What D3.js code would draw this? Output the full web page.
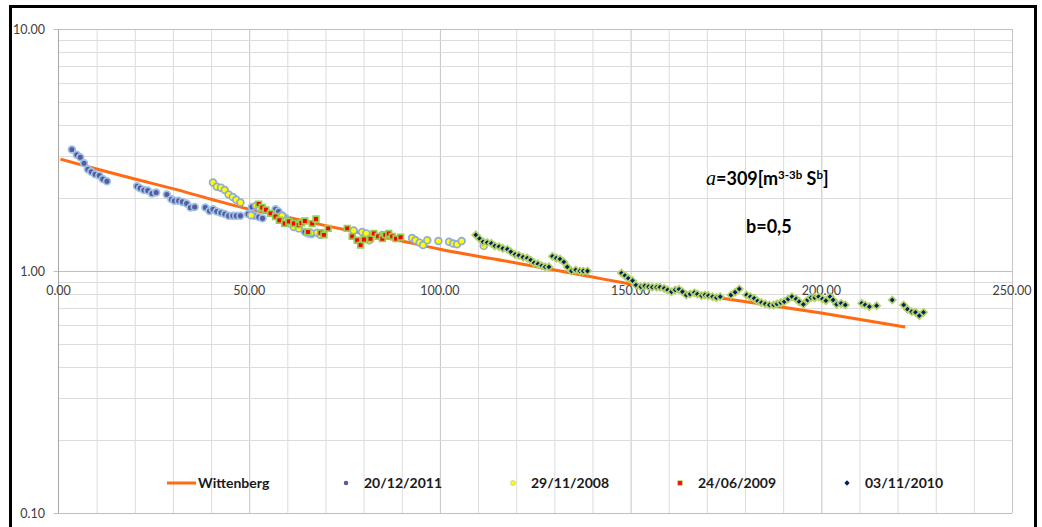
<!DOCTYPE html>
<html>
<head>
<meta charset="utf-8">
<script src="https://cdn.jsdelivr.net/npm/d3@7"></script>
<style>
  html, body { margin: 0; padding: 0; background: #fff; }
  svg { display: block; font-family: Lato, "Open Sans", sans-serif; }
</style>
</head>
<body>
<svg id="chart" width="1042" height="527"></svg>
<script>
// Wittenberg fitted curve
const wittX = [0.5, 10, 20, 30, 40, 50, 60, 70, 80, 90, 100, 120, 140, 150, 170, 200, 222];
const wittY = [2.90, 2.64, 2.40, 2.19, 1.98, 1.80, 1.67, 1.54, 1.43, 1.33, 1.23, 1.08, 0.944, 0.883, 0.789, 0.67, 0.587];

// measured points, [x, y]
const s20122011 = [[3.5,3.18],[4.8,3.02],[5.7,2.95],[6.7,2.79],[7.7,2.63],[8.6,2.57],[9.6,2.51],[10.7,2.48],[11.6,2.40],[12.7,2.35],
  [20.6,2.24],[21.4,2.20],[22.4,2.16],[23.4,2.15],[24.5,2.09],[25.6,2.11],
  [28.4,2.07],[29.6,1.98],[30.4,1.95],[31.5,1.95],[32.5,1.93],[33.6,1.90],[34.6,1.83],[35.7,1.84],
  [38.5,1.83],[39.6,1.77],[40.5,1.80],[41.5,1.76],[42.6,1.74],[43.6,1.72],[44.6,1.69],[45.7,1.69],[46.6,1.69],[47.7,1.69],
  [49.7,1.72],[50.7,1.84],[51.4,1.69],[52.5,1.67],[53.5,1.65],[56.9,1.80],[57.7,1.76],[58.6,1.70],[59.5,1.66],
  [64.6,1.45],[65.4,1.43],[66.3,1.42]];

const s29112008 = [[40.5,2.32],[41.5,2.23],[42.6,2.21],[43.6,2.16],[44.6,2.07],[45.7,2.02],[46.6,1.97],[47.7,1.92],
  [50.5,1.70],[51.8,1.86],[52.7,1.82],[58.6,1.69],[59.8,1.62],[60.8,1.57],[61.7,1.52],[63.0,1.50],
  [66.1,1.44],[67.8,1.44],[68.7,1.41],[77.4,1.47],[79.6,1.45],[80.7,1.43],[81.5,1.34],[84.9,1.41],
  [92.7,1.37],[93.6,1.34],[94.7,1.31],[95.6,1.28],[96.7,1.34],[99.6,1.33],[102.4,1.32],[103.5,1.30],[104.5,1.29],[105.7,1.33],[111.5,1.27]];

const s24062009 = [[52.5,1.89],[53.4,1.83],[54.4,1.79],[55.6,1.73],[56.9,1.68],[57.9,1.62],[59.3,1.57],[60.4,1.60],[61.7,1.57],
  [63.0,1.55],[63.7,1.58],[64.6,1.61],[65.4,1.45],[66.5,1.57],[67.5,1.64],[68.7,1.44],[69.6,1.41],[70.7,1.50],
  [75.7,1.50],[77.0,1.39],[78.3,1.34],[79.2,1.28],[80.1,1.35],[81.8,1.36],[82.7,1.43],[83.8,1.39],[84.9,1.36],
  [85.7,1.41],[86.6,1.43],[87.5,1.39],[88.5,1.36],[89.7,1.38]];

const s03112010 = [[109.4,1.41],[110.4,1.36],[111.3,1.32],[112.4,1.31],[113.5,1.30],[114.4,1.27],[115.5,1.26],[116.5,1.24],[117.7,1.23],
  [118.6,1.20],[119.7,1.17],[120.7,1.16],[121.8,1.14],[122.9,1.13],[123.8,1.11],[124.7,1.08],[125.7,1.07],[126.7,1.05],[127.6,1.04],[128.6,1.04],
  [129.5,1.15],[130.5,1.13],[131.5,1.12],[132.5,1.09],[133.4,1.04],[134.5,1.00],[135.6,1.01],[136.7,1.00],[137.6,1.00],[138.7,1.00],
  [147.6,0.98],[148.5,0.957],[149.4,0.933],[150.5,0.912],[151.4,0.875],[152.7,0.861],[153.7,0.867],[154.7,0.861],[155.7,0.857],
  [156.8,0.857],[157.7,0.857],[158.8,0.848],[159.7,0.835],[160.7,0.821],[161.7,0.835],[162.7,0.840],[163.6,0.821],[164.6,0.796],
  [165.6,0.803],[166.7,0.813],[167.5,0.803],[168.6,0.791],[169.5,0.796],[170.4,0.791],[171.5,0.783],[172.5,0.776],[173.5,0.783],
  [176.3,0.796],[177.4,0.817],[178.5,0.843],[180.4,0.796],[181.4,0.783],[182.4,0.771],[183.3,0.751],[184.3,0.740],[185.3,0.731],
  [186.4,0.724],[187.5,0.724],[188.4,0.731],[189.4,0.740],[190.3,0.747],[191.3,0.766],[192.3,0.783],[193.4,0.766],[194.2,0.747],
  [195.3,0.728],[196.4,0.759],[197.3,0.776],[198.3,0.776],[199.3,0.783],[200.3,0.766],[201.2,0.754],[202.3,0.783],[203.1,0.759],
  [204.0,0.728],[205.2,0.735],[206.3,0.724],[210.6,0.735],[211.5,0.724],[212.6,0.712],[214.5,0.719],[218.6,0.759],
  [221.6,0.724],[222.6,0.695],[223.7,0.679],[224.7,0.675],[225.7,0.654],[226.8,0.675]];

const xTicks = [0, 50, 100, 150, 200, 250];
const yTicks = [0.1, 1, 10];
const legendLabels = ["Wittenberg", "20/12/2011", "29/11/2008", "24/06/2009", "03/11/2010"];

const svg = d3.select("#chart");

const x = d3.scaleLinear().domain([0, 250]).range([58.5, 1012]);
const y = d3.scaleLog().domain([0.1, 10]).range([513, 29]);

// outer frame
svg.append("rect")
  .attr("x", 10.5).attr("y", 6.5)
  .attr("width", 1025).attr("height", 540)
  .attr("fill", "#fff")
  .attr("stroke", "#000")
  .attr("stroke-width", 3);

// grid
const grid = svg.append("g");
const xMinor = d3.range(10, 251, 10);
grid.selectAll(".vx")
  .data(xMinor)
  .join("line")
  .attr("x1", d => x(d) + 0.5).attr("x2", d => x(d) + 0.5)
  .attr("y1", y(10)).attr("y2", y(0.1))
  .attr("stroke", d => d % 50 === 0 ? "#c4c4c4" : "#dcdcdc")
  .attr("stroke-width", 1);

const yMinor = [];
[0.1, 1].forEach(dec => { for (let k = 2; k <= 9; k++) yMinor.push(dec * k); });
grid.selectAll(".hy")
  .data(yMinor)
  .join("line")
  .attr("x1", x(0)).attr("x2", x(250))
  .attr("y1", d => Math.round(y(d)) + 0.5).attr("y2", d => Math.round(y(d)) + 0.5)
  .attr("stroke", "#dcdcdc");

grid.selectAll(".hmaj")
  .data(yTicks)
  .join("line")
  .attr("x1", x(0) - 5).attr("x2", x(250))
  .attr("y1", d => Math.round(y(d)) + 0.5).attr("y2", d => Math.round(y(d)) + 0.5)
  .attr("stroke", "#bfbfbf");

// y axis line
svg.append("line")
  .attr("x1", x(0)).attr("x2", x(0))
  .attr("y1", y(10)).attr("y2", y(0.1))
  .attr("stroke", "#a6a6a6");

// y tick labels
svg.append("g").selectAll("text")
  .data(yTicks)
  .join("text")
  .attr("x", 45)
  .attr("y", d => y(d) + 4.5)
  .attr("text-anchor", "end")
  .attr("font-size", 12.5)
  .attr("fill", "#404040")
  .text(d => d3.format(".2f")(d));

// x tick labels (axis crosses at 1.00)
svg.append("g").selectAll("text")
  .data(xTicks)
  .join("text")
  .attr("x", d => x(d))
  .attr("y", y(1) + 24)
  .attr("text-anchor", "middle")
  .attr("font-size", 12.5)
  .attr("fill", "#404040")
  .text(d => d3.format(".2f")(d));

// Wittenberg line
const line = d3.line()
  .x(d => x(d[0]))
  .y(d => y(d[1]))
  .curve(d3.curveMonotoneX);

svg.append("path")
  .datum(d3.zip(wittX, wittY))
  .attr("d", line)
  .attr("fill", "none")
  .attr("stroke", "#ff6a13")
  .attr("stroke-width", 3);

// markers
const circle = d3.symbol().type(d3.symbolCircle).size(36);
const square = d3.symbol().type(d3.symbolSquare).size(32);
const diamond = d3.symbol().type(d3.symbolSquare).size(26);

const series = [
  { data: s20122011, sym: circle, fill: "#5a5a9e", stroke: "#9dc3e6", rot: 0 },
  { data: s29112008, sym: circle, fill: "#ffff00", stroke: "#8faadc", rot: 0 },
  { data: s24062009, sym: square, fill: "#ff0000", stroke: "#92d050", rot: 0 },
  { data: s03112010, sym: diamond, fill: "#002060", stroke: "#b5d36b", rot: 45 }
];

series.forEach(s => {
  svg.append("g").selectAll("path")
    .data(s.data)
    .join("path")
    .attr("d", s.sym)
    .attr("transform", d => `translate(${x(d[0])},${y(d[1])}) rotate(${s.rot})`)
    .attr("fill", s.fill)
    .attr("stroke", s.stroke)
    .attr("stroke-width", 1.7);
});

// annotation
const note = svg.append("text")
  .attr("x", 706).attr("y", 185)
  .attr("font-size", 18)
  .attr("font-weight", "bold")
  .attr("fill", "#000");
note.append("tspan").attr("font-family", "'Liberation Serif', serif").attr("font-style", "italic").attr("font-weight", "normal").attr("font-size", 20).text("a");
note.append("tspan").text("=309[m");
note.append("tspan").attr("font-size", 11.5).attr("dy", -6.5).text("3-3b");
note.append("tspan").attr("dy", 6.5).text(" S");
note.append("tspan").attr("font-size", 11.5).attr("dy", -6.5).text("b");
note.append("tspan").attr("dy", 6.5).text("]");

svg.append("text")
  .attr("x", 746).attr("y", 233)
  .attr("font-size", 18)
  .attr("font-weight", "bold")
  .attr("fill", "#000")
  .text("b=0,5");

// legend
const legendX = [167, 334, 501, 668, 835];
const lg = svg.append("g");
lg.append("line")
  .attr("x1", legendX[0]).attr("x2", legendX[0] + 29)
  .attr("y1", 483).attr("y2", 483)
  .attr("stroke", "#ff6a13").attr("stroke-width", 3);

const legSym = [
  { sym: d3.symbol().type(d3.symbolCircle).size(16), fill: "#5a5a9e", stroke: "none", rot: 0 },
  { sym: d3.symbol().type(d3.symbolCircle).size(20), fill: "#ffff00", stroke: "#c8c8a0", rot: 0 },
  { sym: d3.symbol().type(d3.symbolSquare).size(22), fill: "#ff0000", stroke: "#b8e08a", rot: 0 },
  { sym: d3.symbol().type(d3.symbolSquare).size(14), fill: "#002060", stroke: "none", rot: 45 }
];
legSym.forEach((s, i) => {
  lg.append("path")
    .attr("d", s.sym)
    .attr("transform", `translate(${legendX[i + 1] + 12},483) rotate(${s.rot})`)
    .attr("fill", s.fill)
    .attr("stroke", s.stroke)
    .attr("stroke-width", 0.8);
});

lg.selectAll("text")
  .data(legendLabels)
  .join("text")
  .attr("x", (d, i) => i === 0 ? legendX[0] + 31 : legendX[i] + 30)
  .attr("y", 488)
  .attr("font-size", 14)
  .attr("font-weight", "bold")
  .attr("fill", "#1a1a1a")
  .text(d => d);
</script>
</body>
</html>
